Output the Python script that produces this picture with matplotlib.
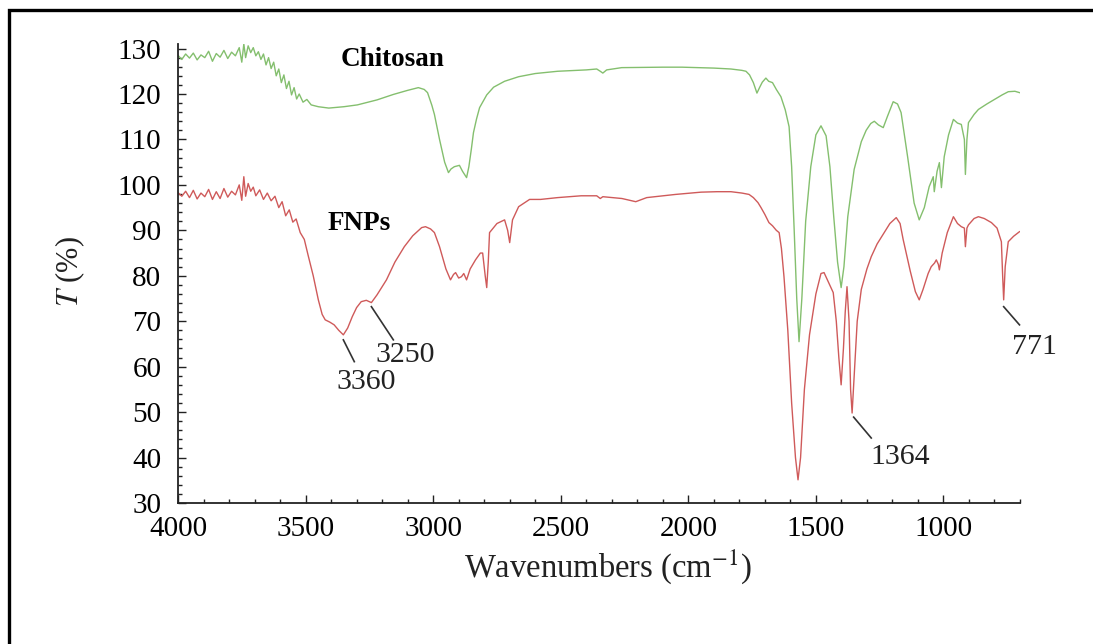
import numpy as np
import matplotlib.pyplot as plt
from matplotlib.patches import Rectangle
from matplotlib.ticker import MultipleLocator

plt.rcParams['font.family'] = ['Liberation Serif', 'DejaVu Serif']
plt.rcParams['mathtext.fontset'] = 'stix'

# Chitosan spectrum (wavenumber, transmittance)
chitosan_wn = [4000, 3985, 3970, 3955, 3940, 3925, 3910, 3895, 3880, 3865, 3850, 3835, 3820, 3805,
               3790, 3775, 3760, 3750, 3742, 3735, 3725, 3715, 3705, 3695, 3685, 3675, 3665, 3655,
               3645, 3635, 3625, 3615, 3605, 3595, 3585, 3575, 3565, 3555, 3545, 3535, 3525, 3510,
               3495, 3478, 3450, 3409, 3350, 3297, 3220, 3156, 3100, 3058, 3035, 3022, 3005, 2995,
               2975, 2955, 2940, 2930, 2917, 2897, 2885, 2869, 2860, 2850, 2842, 2830, 2818, 2790,
               2763, 2720, 2665, 2600, 2512, 2400, 2359, 2345, 2335, 2320, 2261, 2100, 2025, 1900,
               1833, 1790, 1774, 1760, 1745, 1731, 1720, 1710, 1696, 1685, 1670, 1655, 1637, 1620,
               1605, 1595, 1585, 1575, 1566, 1555, 1540, 1520, 1500, 1480, 1460, 1445, 1430, 1415,
               1401, 1390, 1375, 1350, 1322, 1303, 1285, 1271, 1255, 1236, 1220, 1197, 1180, 1166,
               1140, 1115, 1095, 1075, 1056, 1040, 1036, 1025, 1016, 1008, 997, 980, 961, 945,
               930, 918, 914, 908, 902, 880, 863, 830, 800, 770, 746, 720, 702]
chitosan_t = [128.5, 127.6, 128.8, 127.9, 129.0, 127.5, 128.6, 128.0, 129.4, 127.2, 128.9, 128.1, 129.6, 127.8,
              129.2, 128.4, 130.2, 127.0, 131.0, 128.0, 130.6, 129.1, 130.2, 128.4, 129.3, 127.6, 128.8, 126.4,
              128.0, 125.6, 127.0, 124.0, 125.5, 122.5, 124.2, 121.2, 122.8, 119.8, 121.4, 118.9, 120.0, 118.2,
              118.8, 117.6, 117.2, 116.9, 117.2, 117.6, 118.7, 119.9, 120.8, 121.4, 121.0, 120.3, 117.5, 115.5,
              110.0, 105.0, 102.7, 103.5, 104.0, 104.3, 103.0, 101.6, 104.0, 108.0, 111.5, 114.5, 117.0, 119.8,
              121.5, 122.8, 123.8, 124.5, 125.0, 125.3, 125.5, 125.0, 124.6, 125.3, 125.8, 125.9, 125.9, 125.7,
              125.5, 125.2, 125.0, 124.2, 122.5, 120.2, 121.5, 122.6, 123.5, 122.8, 122.5, 121.0, 119.4, 116.5,
              112.8, 104.0, 90.0, 75.0, 65.5, 75.0, 92.0, 104.0, 111.0, 113.0, 110.8, 104.0, 93.0, 83.0,
              77.4, 82.0, 93.0, 103.4, 109.5, 112.0, 113.5, 114.0, 113.2, 112.6, 115.0, 118.3, 117.8, 115.9,
              106.0, 96.0, 92.3, 95.0, 99.6, 101.8, 98.5, 103.0, 104.9, 99.4, 106.2, 111.0, 114.4, 113.6,
              113.3, 110.0, 102.3, 110.0, 113.7, 115.5, 116.6, 117.8, 118.8, 119.8, 120.5, 120.6, 120.3]

# FNPs spectrum
fnps_wn = [4000, 3985, 3970, 3955, 3940, 3925, 3910, 3895, 3880, 3865, 3850, 3835, 3820, 3805,
           3790, 3775, 3760, 3750, 3742, 3735, 3725, 3715, 3705, 3695, 3680, 3665, 3650, 3635,
           3620, 3605, 3592, 3578, 3564, 3550, 3537, 3521, 3505, 3490, 3470, 3450, 3435, 3423,
           3405, 3388, 3370, 3352, 3335, 3317, 3300, 3282, 3262, 3242, 3220, 3183, 3150, 3113,
           3080, 3045, 3030, 3010, 2995, 2975, 2950, 2932, 2920, 2912, 2900, 2889, 2880, 2869,
           2855, 2834, 2815, 2806, 2796, 2790, 2784, 2779, 2750, 2720, 2708, 2700, 2692, 2689,
           2665, 2622, 2579, 2512, 2420, 2359, 2345, 2335, 2260, 2206, 2163, 2050, 1950, 1888,
           1833, 1790, 1762, 1745, 1727, 1715, 1700, 1684, 1670, 1655, 1644, 1635, 1625, 1610,
           1595, 1580, 1570, 1560, 1545, 1525, 1500, 1480, 1468, 1450, 1432, 1420, 1410, 1401,
           1392, 1385, 1378, 1370, 1364, 1358, 1348, 1338, 1322, 1300, 1283, 1260, 1232, 1210,
           1185, 1170, 1158, 1130, 1110, 1095, 1080, 1060, 1048, 1035, 1028, 1020, 1016, 1005,
           985, 961, 945, 930, 918, 914, 908, 902, 880, 863, 840, 812, 790, 773, 768, 764,
           758, 746, 725, 702]
fnps_t = [98.3, 97.5, 98.6, 97.2, 98.8, 96.9, 98.2, 97.4, 99.0, 96.8, 98.5, 97.0, 99.2, 97.3,
          98.6, 97.8, 100.0, 96.6, 101.8, 97.5, 100.3, 98.6, 99.5, 97.6, 98.9, 96.8, 98.2, 96.5,
          97.5, 95.0, 96.3, 93.2, 94.5, 91.8, 92.5, 89.5, 88.0, 84.5, 80.0, 74.7, 71.5, 70.3,
          69.8, 69.2, 68.0, 67.0, 68.5, 71.0, 73.0, 74.3, 74.6, 74.1, 75.8, 79.1, 83.0, 86.4,
          88.8, 90.6, 90.8, 90.3, 89.5, 86.4, 81.5, 79.1, 80.3, 80.7, 79.5, 79.8, 80.5, 79.1,
          81.5, 83.5, 85.0, 85.0, 80.0, 77.4, 83.0, 89.5, 91.5, 92.3, 90.0, 87.3, 91.0, 92.3,
          95.2, 96.8, 96.8, 97.2, 97.6, 97.6, 97.0, 97.4, 97.0, 96.3, 97.2, 97.9, 98.4, 98.5,
          98.5, 98.2, 97.9, 97.2, 96.1, 95.0, 93.5, 91.7, 91.0, 90.0, 89.5, 86.0, 79.8, 68.0,
          52.0, 40.0, 35.1, 40.0, 55.0, 67.0, 76.0, 80.5, 80.7, 78.5, 76.3, 70.0, 62.0, 56.0,
          64.0, 72.0, 77.6, 70.0, 55.0, 49.8, 60.0, 70.0, 77.0, 81.5, 84.2, 87.0, 89.5, 91.5,
          92.8, 91.5, 88.0, 81.0, 76.5, 74.7, 77.0, 80.5, 82.0, 82.8, 83.5, 82.5, 81.3, 85.0,
          89.5, 93.0, 91.5, 90.8, 90.5, 86.4, 90.5, 91.2, 92.6, 93.0, 92.6, 91.7, 90.5, 87.5, 80.0, 74.7,
          82.0, 87.5, 88.7, 89.7]

# peak labels: text, leader start (wn, T), leader end (wn, T), text position (wn, T)
peak_labels = ['3360', '3250', '1364', '771']
peak_start = [(3352, 65.9), (3242, 73.2), (1352, 48.9), (764, 73.2)]
peak_end = [(3309, 61.1), (3156, 65.9), (1283, 44.3), (702, 69.2)]
peak_text = [(3262, 56.7), (3109, 62.6), (1169, 40.1), (643, 64.4)]

fig = plt.figure(figsize=(10.93, 6.44), dpi=100)
ax = fig.add_axes([178 / 1093, 1 - 503 / 644, (1020 - 178) / 1093, (503 - 44) / 644])

ax.plot(chitosan_wn, chitosan_t, color='#84bf6e', lw=1.0)
ax.plot(fnps_wn, fnps_t, color='#cf5a5a', lw=1.0)

ax.set_xlim(4000, 700)
ax.set_ylim(30, 131)
ax.xaxis.set_major_locator(MultipleLocator(500))
ax.xaxis.set_minor_locator(MultipleLocator(100))
ax.yaxis.set_major_locator(MultipleLocator(10))
ax.yaxis.set_minor_locator(MultipleLocator(2))
ax.tick_params(which='both', direction='in', width=1.0, labelsize=21, color='#222222')
ax.tick_params(axis='x', which='major', length=6, pad=9)
ax.tick_params(axis='y', which='major', length=6, pad=12)
ax.tick_params(which='minor', length=3)
for s in ['top', 'right']:
    ax.spines[s].set_visible(False)
for s in ['left', 'bottom']:
    ax.spines[s].set_linewidth(1.3)
    ax.spines[s].set_color('#222222')

ax.text(3160, 127.6, 'Chitosan', fontsize=19.5, fontweight='bold', ha='center', va='center')
ax.text(3289, 91.5, 'FNPs', fontsize=19.5, fontweight='bold', ha='center', va='center')

for lab, p0, p1, pt in zip(peak_labels, peak_start, peak_end, peak_text):
    ax.plot([p0[0], p1[0]], [p0[1], p1[1]], color='#333333', lw=1.2, clip_on=False)
    ax.text(pt[0], pt[1], lab, fontsize=21.5, ha='center', va='center', color='#222222', clip_on=False)

fig.text(608 / 1093, 1 - 567 / 644, r'Wavenumbers (cm$^{-1}$)', fontsize=23.5,
         ha='center', va='center', color='#222222')
fig.text(70 / 1093, 1 - 272 / 644, r'$T$ (%)', fontsize=22, rotation=90,
         ha='center', va='center', color='#222222')

# frame around the figure (cropped at right and bottom)
fig.patches.append(Rectangle((9 / 1093, -0.1), 1.2, 1.1 - 10 / 644, transform=fig.transFigure,
                             fill=False, edgecolor='black', lw=2.4))

fig.savefig('out.png', dpi=100)
